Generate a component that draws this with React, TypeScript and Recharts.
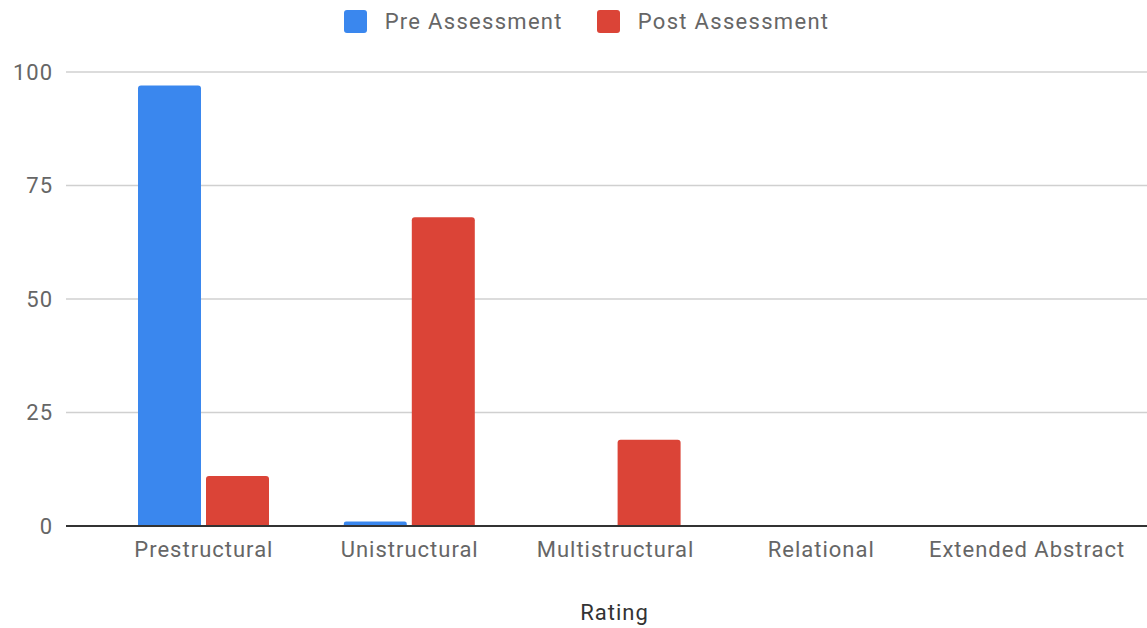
import React from 'react';
import { BarChart, Bar, XAxis, YAxis, CartesianGrid } from 'recharts';

const categories = ['Prestructural', 'Unistructural', 'Multistructural', 'Relational', 'Extended Abstract'];
const preAssessment = [97, 1, 0, 0, 0];
const postAssessment = [11, 68, 19, 0, 0];
const yTicks = [0, 25, 50, 75, 100];

const SERIES = [
  { key: 'pre', name: 'Pre Assessment', color: '#3a87ee' },
  { key: 'post', name: 'Post Assessment', color: '#db4437' },
];

const data = categories.map((rating, i) => ({
  rating,
  pre: preAssessment[i],
  post: postAssessment[i],
}));

const FONT = 'Roboto, "Noto Sans", sans-serif';
const TEXT = '#666666';

const LegendRow: React.FC = () => (
  <div
    style={{
      position: 'absolute',
      top: 9,
      left: 0,
      width: 1147,
      display: 'flex',
      justifyContent: 'center',
      paddingLeft: 26,
      boxSizing: 'border-box',
      fontFamily: FONT,
      fontSize: 22,
      letterSpacing: 1.3,
      color: TEXT,
    }}
  >
    {SERIES.map((s, i) => (
      <div key={s.key} style={{ display: 'flex', alignItems: 'center', marginLeft: i ? 34 : 0 }}>
        <span
          style={{
            display: 'inline-block',
            width: 23,
            height: 23,
            borderRadius: 3,
            background: s.color,
            marginRight: 18,
          }}
        />
        <span>{s.name}</span>
      </div>
    ))}
  </div>
);

export default function App() {
  return (
    <div style={{ position: 'absolute', left: 0, top: 0, width: 1147, height: 628, background: '#fff' }}>
      <LegendRow />
      <BarChart
        width={1147}
        height={628}
        data={data}
        margin={{ top: 72, right: 0, bottom: 0, left: 0 }}
        barGap={5}
        barSize={63}
      >
        <CartesianGrid vertical={false} stroke="#d0d0d0" strokeWidth={1.5} />
        <XAxis
          dataKey="rating"
          height={102}
          padding={{ left: 35, right: 17 }}
          tickLine={false}
          tickSize={0}
          tickMargin={15}
          axisLine={{ stroke: '#333', strokeWidth: 2 }}
          tick={{ fill: TEXT, fontSize: 22, fontFamily: FONT, letterSpacing: 1 }}
          interval={0}
          label={{
            value: 'Rating',
            position: 'insideBottom',
            offset: 8,
            dx: 8,
            fill: '#333',
            fontSize: 22,
            fontFamily: FONT,
            letterSpacing: 1,
          }}
        />
        <YAxis
          width={66}
          domain={[0, 100]}
          ticks={yTicks}
          tickLine={false}
          tickSize={0}
          tickMargin={13}
          axisLine={false}
          tick={{ fill: TEXT, fontSize: 22, fontFamily: FONT, letterSpacing: 1 }}
        />
        {SERIES.map((s) => (
          <Bar
            key={s.key}
            dataKey={s.key}
            name={s.name}
            fill={s.color}
            radius={[3, 3, 0, 0]}
            isAnimationActive={false}
          />
        ))}
      </BarChart>
    </div>
  );
}
